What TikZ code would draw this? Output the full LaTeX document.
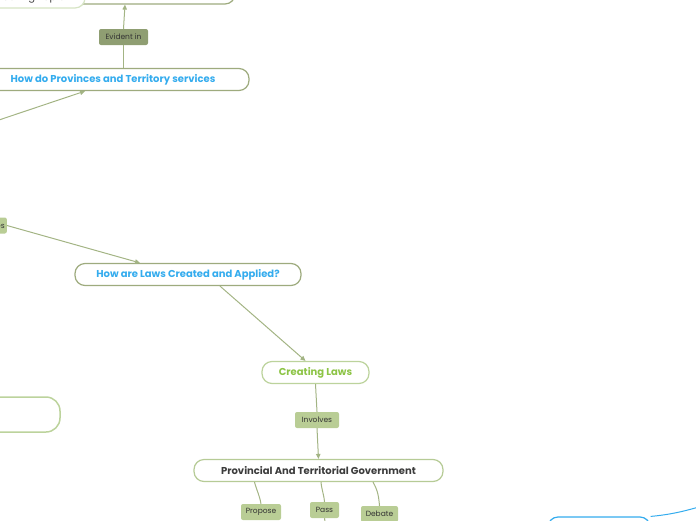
\documentclass[tikz,border=0pt]{standalone}
\usepackage{fontspec}
\setmainfont{Poppins}
\usetikzlibrary{arrows.meta}
\definecolor{topicline}{RGB}{158,171,126}
\definecolor{paleline}{RGB}{188,211,156}
\definecolor{faintline}{RGB}{214,228,196}
\definecolor{linkgreen}{RGB}{163,180,132}
\definecolor{tagdark}{RGB}{143,158,114}
\definecolor{taglight}{RGB}{185,205,149}
\definecolor{askblue}{RGB}{52,172,238}
\definecolor{leafgreen}{RGB}{141,196,70}
\definecolor{govgray}{RGB}{60,60,60}

\begin{document}
\begin{tikzpicture}[x=1pt, y=1pt,
    topic/.style = {draw=topicline, line width=1.2pt, fill=white, rounded corners=10pt,
      minimum height=22pt, inner sep=0pt, font=\bfseries\fontsize{10}{12}\selectfont},
    tag/.style = {fill=taglight, rounded corners=2pt, minimum height=16pt, inner sep=0pt,
      text=black!80, font=\fontsize{7.5}{9}\selectfont},
    link/.style = {draw=linkgreen, line width=1pt},
    arr/.style = {link, -{Triangle[length=5pt, width=4.5pt]}}]
  \useasboundingbox (0,0) rectangle (696,-520);
  \clip (0,0) rectangle (696,-520);

  % upper branch
  \node[topic, minimum width=220pt] (toptopic) at (125,7) {};
  \node[topic, draw=faintline, minimum width=110pt, minimum height=19pt,
    font=\fontsize{10}{12}\selectfont, text=govgray] (floating) at (30,1.5) {Floating Topic};
  \node[tag, fill=tagdark, minimum width=49pt] (evident) at (123.5,-37) {Evident in};
  \node[topic, minimum width=272pt, text=askblue] (provinces) at (113,-79.5)
    {How do Provinces and Territory services};
  \coordinate (fromleft) at (-10,-123);

  \draw[link] (provinces.north -| evident.south) -- (evident.south);
  \draw[arr] (evident.north) -- (toptopic.south);
  \draw[arr] (fromleft) -- ([xshift=-28pt]provinces.south);

  % laws branch
  \node[tag, minimum width=38pt, anchor=east, text width=34pt, align=right] (examples) at (7,-225.5) {Includes};
  \node[topic, minimum width=226pt, text=askblue] (laws) at (188,-274.5)
    {How are Laws Created and Applied?};
  \node[topic, draw=paleline, minimum width=107pt, text=leafgreen] (creating) at (315.5,-372.5)
    {Creating Laws};
  \node[tag, minimum width=44pt] (involves) at (317,-420) {Involves};
  \node[topic, draw=paleline!80!topicline, minimum width=249pt, text=govgray] (government) at (318.5,-470.5)
    {Provincial And Territorial Government};

  \draw[arr] (examples.east) -- ([xshift=-48pt]laws.north);
  \draw[arr] ([xshift=32pt]laws.south) -- ([xshift=-10pt]creating.north);
  \draw[link] (creating.south) -- (involves.north);
  \draw[arr] (involves.south) -- (government.north);

  % what the government does
  \node[tag, minimum width=40pt] (propose) at (261,-512) {Propose};
  \node[tag, minimum width=29pt] (pass) at (324.5,-510) {Pass};
  \node[tag, minimum width=37pt] (debate) at (379.5,-514) {Debate};
  \coordinate (passnext) at (328,-540);

  \draw[link] ([xshift=-64pt]government.south) to[out=-75, in=100] (propose.north);
  \draw[link] ([xshift=2.5pt]government.south) to[out=-85, in=95] (pass.north);
  \draw[link] ([xshift=54.5pt]government.south) to[out=-60, in=95] (debate.north);
  \draw[link] (pass.south) -- (passnext);

  % cut off at the edges
  \node[topic, draw=paleline, line width=1.5pt, minimum width=120pt, minimum height=35pt,
    rounded corners=14pt] (lowleft) at (0,-414.5) {};
  \node[topic, draw=askblue, minimum width=102pt, minimum height=26pt] (lowright) at (599,-530) {};
  \coordinate (rightnext) at (730,-498);
  \draw[draw=askblue, line width=1pt] (lowright.north east) to[out=5, in=195] (rightnext);
\end{tikzpicture}
\end{document}
